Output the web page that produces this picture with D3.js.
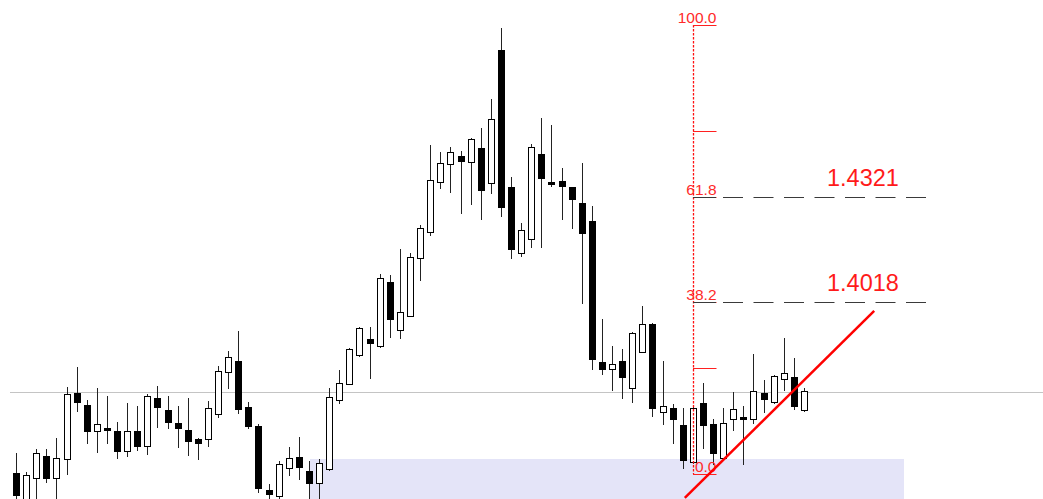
<!DOCTYPE html>
<html>
<head>
<meta charset="utf-8">
<script src="https://cdn.jsdelivr.net/npm/d3@7"></script>
<style>
  body { margin: 0; background: #fff; }
  svg { display: block; }
</style>
</head>
<body>
<div id="chart"></div>
<script>
// candles
const open = [1.3530,1.3439,1.3516,1.3579,1.3516,1.3570,1.3759,1.3725,1.3650,1.3659,
  1.3650,1.3593,1.3650,1.3608,1.3745,1.3711,1.3673,1.3653,1.3628,1.3628,
  1.3699,1.3819,1.3851,1.3719,1.3665,1.3482,1.3465,1.3545,1.3576,1.3536,
  1.3502,1.3542,1.3739,1.3785,1.3868,1.3914,1.3894,1.4077,1.3939,1.3979,
  1.4145,1.4220,1.4363,1.4414,1.4437,1.4420,1.4460,1.4360,1.4740,1.4348,
  1.4160,1.4200,1.4443,1.4363,1.4365,1.4348,1.4303,1.4251,1.3848,1.3828,
  1.3851,1.3773,1.3876,1.3957,1.3705,1.3716,1.3668,1.3562,1.3731,1.3670,
  1.3573,1.3685,1.3691,1.3685,1.3759,1.3733,1.3799,1.3805,1.3711];
const high = [1.3588,1.3533,1.3599,1.3599,1.3630,1.3776,1.3834,1.3739,1.3773,1.3751,
  1.3676,1.3731,1.3722,1.3756,1.3779,1.3751,1.3722,1.3745,1.3630,1.3736,
  1.3836,1.3879,1.3936,1.3733,1.3670,1.3499,1.3565,1.3605,1.3633,1.3565,
  1.3570,1.3773,1.3825,1.3888,1.3948,1.3948,1.4100,1.4097,1.4171,1.4160,
  1.4240,1.4468,1.4448,1.4463,1.4451,1.4487,1.4517,1.4600,1.4803,1.4377,
  1.4245,1.4471,1.4546,1.4526,1.4403,1.4349,1.4417,1.4294,1.3971,1.3894,
  1.3885,1.3934,1.4008,1.3959,1.3851,1.3728,1.3716,1.3719,1.3788,1.3685,
  1.3716,1.3762,1.3722,1.3871,1.3796,1.3811,1.3916,1.3859,1.3773];
const low = [1.3445,1.3425,1.3439,1.3505,1.3439,1.3528,1.3708,1.3616,1.3590,1.3616,
  1.3573,1.3579,1.3596,1.3585,1.3662,1.3659,1.3605,1.3582,1.3570,1.3608,
  1.3691,1.3773,1.3702,1.3659,1.3476,1.3453,1.3453,1.3525,1.3513,1.3453,
  1.3453,1.3539,1.3731,1.3785,1.3865,1.3802,1.3891,1.3919,1.3916,1.3979,
  1.4082,1.4211,1.4345,1.4334,1.4274,1.4300,1.4257,1.4331,1.4265,1.4145,
  1.4151,1.4177,1.4177,1.4351,1.4257,1.4231,1.4017,1.3828,1.3814,1.3768,
  1.3745,1.3733,1.3876,1.3693,1.3670,1.3616,1.3545,1.3559,1.3602,1.3556,
  1.3568,1.3653,1.3556,1.3673,1.3705,1.3731,1.3768,1.3713,1.3708];
const close = [1.3467,1.3525,1.3588,1.3516,1.3573,1.3756,1.3733,1.3650,1.3670,1.3653,
  1.3593,1.3650,1.3608,1.3751,1.3719,1.3676,1.3659,1.3622,1.3616,1.3716,
  1.3822,1.3862,1.3713,1.3665,1.3487,1.3470,1.3556,1.3573,1.3548,1.3502,
  1.3559,1.3748,1.3788,1.3885,1.3945,1.3902,1.4088,1.3971,1.3991,1.4148,
  1.4231,1.4368,1.4417,1.4448,1.4423,1.4486,1.4340,1.4543,1.4291,1.4171,
  1.4225,1.4463,1.4374,1.4357,1.4351,1.4314,1.4217,1.3856,1.3828,1.3842,
  1.3805,1.3931,1.3957,1.3716,1.3722,1.3685,1.3568,1.3716,1.3668,1.3588,
  1.3673,1.3713,1.3685,1.3765,1.3742,1.3808,1.3816,1.3722,1.3765];

// fibonacci tool (0 = low, 100 = high)
const fibLow = 1.35275, fibHigh = 1.48114;
const fibLevels = [0, 23.6, 38.2, 61.8, 76.4, 100];
const fibLabelled = [0, 38.2, 61.8, 100];
const fibPriceLevels = [38.2, 61.8];
const fibPriceLabels = ["1.4018", "1.4321"];
const fibBar = 67;          // bar where the tool is anchored

// other objects on the chart
const hLinePrice = 1.3762;
const zone = {from: 29.1, to: 87.9, top: 1.3570};
const trend = [[66.2, 1.3459], [84.95, 1.3994]];

const width = 1043, height = 499;

const svg = d3.select("#chart").append("svg")
  .attr("width", width)
  .attr("height", height);

svg.append("defs").append("clipPath").attr("id", "plot")
  .append("rect").attr("x", 0).attr("y", 13).attr("width", width).attr("height", height - 13);

const g = svg.append("g").attr("clip-path", "url(#plot)");

const x = d3.scaleLinear().domain([0, open.length - 1]).range([16, 804]);
const y = d3.scaleLinear().domain([fibLow, fibHigh]).range([474, 25]);
const fibY = p => y(fibLow + (fibHigh - fibLow) * p / 100);
const px = v => Math.round(v) + 0.5;

// zone
g.append("rect")
  .attr("x", Math.round(x(zone.from)))
  .attr("y", Math.round(y(zone.top)))
  .attr("width", Math.round(x(zone.to)) - Math.round(x(zone.from)))
  .attr("height", height)
  .attr("fill", "#e4e4f8");

// horizontal line
g.append("line")
  .attr("x1", 10).attr("x2", width)
  .attr("y1", px(y(hLinePrice))).attr("y2", px(y(hLinePrice)))
  .attr("stroke", "#c4c4c4");

// candles
const bars = d3.range(open.length);
const candle = g.append("g").selectAll("g").data(bars).join("g");

candle.append("line")
  .attr("x1", i => px(x(i))).attr("x2", i => px(x(i)))
  .attr("y1", i => Math.round(y(high[i]))).attr("y2", i => Math.round(y(low[i])) + 1)
  .attr("stroke", "#222");

candle.append("rect")
  .attr("x", i => Math.round(x(i)) - 2.5)
  .attr("width", 6)
  .attr("y", i => px(y(Math.max(open[i], close[i]))))
  .attr("height", i => Math.max(1, Math.round(y(Math.min(open[i], close[i]))) - Math.round(y(Math.max(open[i], close[i])))))
  .attr("fill", i => close[i] >= open[i] ? "#fff" : "#000")
  .attr("stroke", "#000");

// fibonacci
const fx = px(x(fibBar));
g.append("line")
  .attr("x1", fx).attr("x2", fx)
  .attr("y1", fibY(100)).attr("y2", fibY(0))
  .attr("stroke", "#ff1010")
  .attr("stroke-width", 1.3)
  .attr("stroke-dasharray", "2.5,1.5");

g.selectAll("line.fibtick").data(fibLevels).join("line")
  .attr("class", "fibtick")
  .attr("x1", fx - 0.5).attr("x2", fx + 23)
  .attr("y1", d => px(fibY(d))).attr("y2", d => px(fibY(d)))
  .attr("stroke", "#ff2020");

g.selectAll("line.fibdash").data(fibPriceLevels).join("line")
  .attr("class", "fibdash")
  .attr("x1", fx - 0.5).attr("x2", 927)
  .attr("y1", d => px(fibY(d))).attr("y2", d => px(fibY(d)))
  .attr("stroke", "#3a3a3a")
  .attr("stroke-width", 1.2)
  .attr("stroke-dasharray", "23,7,20,10.5,20,10.5,20,10.5,20,10.5,20,10.5,20,10.5,20,10.5");

g.selectAll("text.fiblab").data(fibLabelled).join("text")
  .attr("class", "fiblab")
  .attr("x", fx + 23)
  .attr("y", d => fibY(d) - 2)
  .attr("text-anchor", "end")
  .attr("font-family", "Liberation Sans, Arial, sans-serif")
  .attr("font-size", 15.5)
  .attr("fill", "#ff2a2a")
  .text(d => d.toFixed(1));

g.selectAll("text.fibprice").data(fibPriceLevels).join("text")
  .attr("class", "fibprice")
  .attr("x", 827)
  .attr("y", d => fibY(d) - 11)
  .attr("font-family", "Liberation Sans, Arial, sans-serif")
  .attr("font-size", 23.5)
  .attr("fill", "#ff1a1a")
  .text((d, i) => fibPriceLabels[i]);

// trend line
g.append("line")
  .attr("x1", x(trend[0][0])).attr("y1", y(trend[0][1]))
  .attr("x2", x(trend[1][0])).attr("y2", y(trend[1][1]))
  .attr("stroke", "#ff0000")
  .attr("stroke-width", 2.5);
</script>
</body>
</html>
